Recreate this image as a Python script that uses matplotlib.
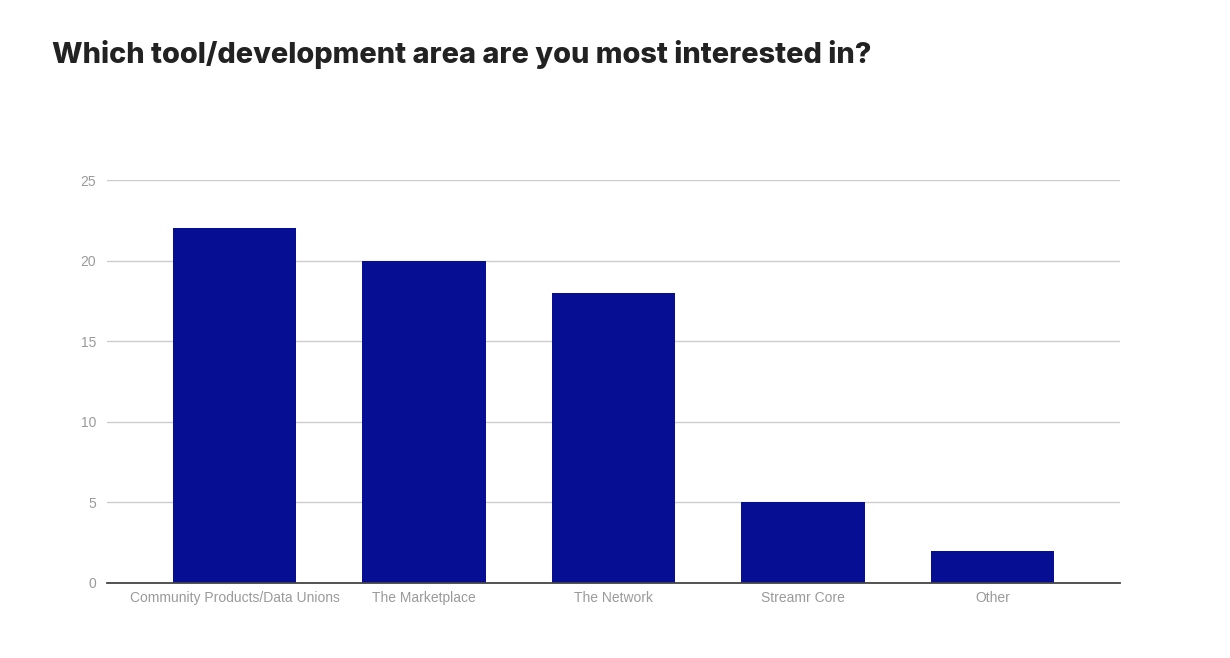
import matplotlib
matplotlib.use("Agg")
import matplotlib.pyplot as plt

categories = ["Community Products/Data Unions", "The Marketplace", "The Network", "Streamr Core", "Other"]
values = [22, 20, 18, 5, 2]
yticks = [0, 5, 10, 15, 20, 25]
title = "Which tool/development area are you most interested in?"

fig = plt.figure(figsize=(12.3, 6.58), dpi=100)
ax = fig.add_axes([107/1230, 1-583/658, (1120-107)/1230, (583-180)/658])

x = list(range(len(categories)))
ax.bar(x, values, width=0.65, color="#060F94", zorder=3)
ax.set_xlim(-0.673, len(categories) - 1 + 0.673)
ax.set_ylim(0, 25)
ax.set_yticks(yticks)
ax.set_yticklabels([str(t) for t in yticks], fontfamily="Liberation Sans", fontsize=10, color="#9a9a9a")
ax.set_xticks(x)
ax.set_xticklabels(categories, fontfamily="Liberation Sans", fontsize=10, color="#9a9a9a")
ax.tick_params(axis="both", length=0)
ax.tick_params(axis="y", pad=8)
ax.tick_params(axis="x", pad=6)
ax.yaxis.grid(True, color="#cccccc", linewidth=1, zorder=0)
for s in ["top", "right", "left"]:
    ax.spines[s].set_visible(False)
ax.spines["bottom"].set_color("#444444")
ax.spines["bottom"].set_linewidth(1.3)
ax.spines["bottom"].set_zorder(4)

fig.text(52/1230, 1-63/658, title, fontfamily="Inter", fontweight="heavy", fontsize=20.8, color="#222222", ha="left", va="baseline")

fig.savefig("out.png", dpi=100)
